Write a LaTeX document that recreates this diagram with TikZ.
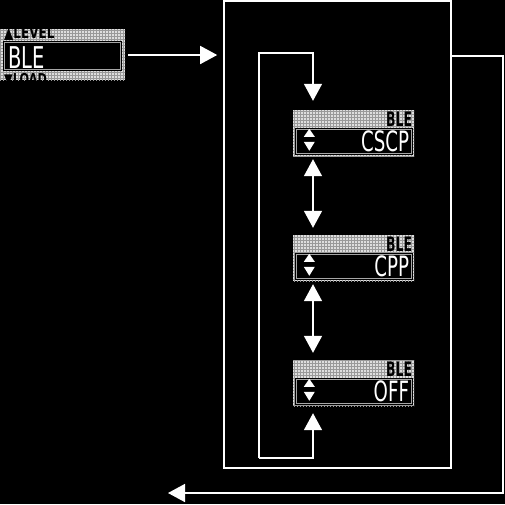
\documentclass[tikz,border=0pt]{standalone}
\usepackage{fontspec}
\usetikzlibrary{arrows.meta,patterns,calc}
\newfontfamily\lcdfont[FakeStretch=0.65]{DejaVu Sans}
\newfontfamily\lcdbold[FakeStretch=0.62]{DejaVu Sans}
\newfontfamily\symfont[FakeStretch=0.75]{DejaVu Sans}
\definecolor{lcdlight}{gray}{0.87}
\definecolor{lcdline}{gray}{0.6}
\tikzset{
  wire/.style={draw=white,line width=1.6pt},
  arr/.style={wire,-{Triangle[width=18pt,length=17pt]}},
  dbl/.style={wire,{Triangle[width=18pt,length=17pt]}-{Triangle[width=18pt,length=17pt]}},
  lcdbg/.style={fill=lcdlight,postaction={pattern=grid,pattern color=lcdline}},
  screen/.style={lcdbg,minimum width=121pt,minimum height=46pt,inner sep=0pt,draw=none},
  inset/.style={draw=gray!70,line width=0.8pt},
}
\newcommand\lcdscreen[3]{%
  \node[screen] (#1) at (353.5,#2+23) {};
  \fill[black] ($(#1.south west)+(2,-1)$) rectangle ($(#1.north east)+(-1,18)$);
  \draw[inset] ($(#1.south west)+(4,-2.5)$) rectangle ($(#1.north east)+(-2.5,19.5)$);
  \node[anchor=north east,inner sep=0pt] (#1h) at ($(#1.north east)+(-2,2)$) {\lcdbold\bfseries\fontsize{20}{20}\selectfont BLE};
  \node[anchor=base east,inner sep=0pt,text=white] (#1v) at ($(#1.north east)+(-5,42)$) {\lcdfont\fontsize{28}{28}\selectfont #3};
  \fill[white] ($(#1.north west)+(16.5,19)$) -- ($(#1.north west)+(11,27)$) -- ($(#1.north west)+(22,27)$) -- cycle;
  \fill[white] ($(#1.north west)+(11,32)$) -- ($(#1.north west)+(22,32)$) -- ($(#1.north west)+(16.5,41)$) -- cycle;
}
\begin{document}
\begin{tikzpicture}[x=1pt,y=-1pt]
\fill[black] (0,0) rectangle (505,504);
\useasboundingbox (0,0) rectangle (505,504);

% left menu widget
\node[lcdbg,minimum width=125pt,minimum height=51pt,inner sep=0pt,anchor=north west] (menu) at (0,29) {};
\begin{scope}
  \clip (0,29) rectangle (125,41);
  \node[anchor=base west,inner sep=0pt] (menutop) at (4,38.5) {\symfont\bfseries\fontsize{16}{16}\selectfont ▲LEVEL};
\end{scope}
\begin{scope}
  \clip (0,71) rectangle (125,80);
  \node[anchor=base west,inner sep=0pt] (menubot) at (4,84) {\symfont\bfseries\fontsize{15}{15}\selectfont ▼LOAD};
\end{scope}
\fill[black] (3,41) rectangle (122,71);
\draw[inset] (4.5,42.5) rectangle (120.5,69.5);
\node[anchor=base west,inner sep=0pt,text=white] (menuval) at (8,68) {\lcdfont\fontsize{30}{30}\selectfont BLE};

% big frame
\node[draw=white,line width=1.6pt,minimum width=227pt,minimum height=467pt,inner sep=0pt] (big) at (337.5,234.5) {};

% screens
\lcdscreen{s1}{110}{CSCP}
\lcdscreen{s2}{235}{CPP}
\lcdscreen{s3}{360}{OFF}

% connectors
\coordinate (ax) at (313,0);
\coordinate (lt) at (259,53);
\coordinate (lb) at (259,458);
\draw[arr,shorten >=9pt] (lb) -- (lt) -| (s1.north -| ax);
\draw[arr,shorten >=7pt] (lb) -| (s3.south -| ax);
\draw[dbl,shorten <=3pt,shorten >=7pt] (s1.south -| ax) -- (s2.north -| ax);
\draw[dbl,shorten <=3pt,shorten >=7pt] (s2.south -| ax) -- (s3.north -| ax);

\coordinate (m1) at (128,55);
\draw[arr,shorten >=6pt] (m1) -- (m1 -| big.west);

\coordinate (r1) at (503,56);
\coordinate (r2) at (503,493);
\coordinate (r3) at (168,493);
\draw[arr] (r1 -| big.east) -- (r1) -- (r2) -- (r3);
\end{tikzpicture}
\end{document}
